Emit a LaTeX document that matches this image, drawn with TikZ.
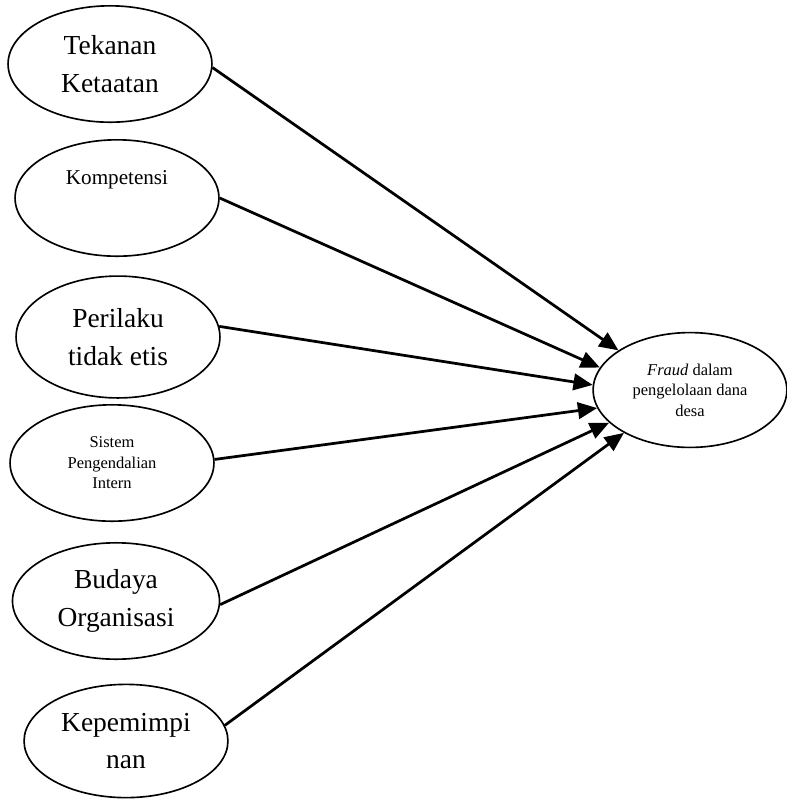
\documentclass[tikz,border=0pt]{standalone}
\usepackage{fontspec}
\setmainfont{Liberation Serif}
\usetikzlibrary{shapes.geometric,arrows.meta}
\newcommand{\bigtxt}{\fontsize{10}{13.8}\selectfont}
\newcommand{\midtxt}{\fontsize{7.7}{9}\selectfont}
\newcommand{\smalltxt}{\fontsize{6}{7.5}\selectfont}
\begin{document}
\begin{tikzpicture}[x=0.0128cm,y=-0.0128cm,
        oval/.style={draw,ellipse,line width=0.6pt,inner sep=0pt,align=center,
                     minimum width=2.61cm,minimum height=1.49cm},
        arr/.style={-{Triangle[length=7pt,width=6pt]},line width=1pt}]
     		\useasboundingbox (0,0) rectangle (787,800);
     		\node[oval,font=\bigtxt] (tekanan) at (110,64) {Tekanan\\Ketaatan};
     		\node[oval] (kompetensi) at (117,198) {};
     		\node[font=\midtxt] (kompetensitxt) at (117,180) {Kompetensi};
     		\node[oval,font=\bigtxt,minimum height=1.56cm] (perilaku) at (118,337) {Perilaku\\tidak etis};
     		\node[oval,font=\smalltxt] (spi) at (112,463) {Sistem\\Pengendalian\\Intern};
     		\node[oval,font=\bigtxt,minimum width=2.65cm] (budaya) at (116,601) {Budaya\\Organisasi};
     		\node[oval,font=\bigtxt,minimum height=1.45cm] (kepemimpinan) at (126,741) {Kepemimpi\\nan};
     		\node[oval,font=\smalltxt,minimum width=2.48cm,minimum height=1.47cm] (fraud) at (690,390)
     		{\textit{Fraud} dalam\\pengelolaan dana\\desa};
     		\foreach \src/\a/\b in {tekanan/-2/151,kompetensi/0/166,perilaku/6/177,spi/2/191,budaya/-2/202,kepemimpinan/9/213}{
     		\draw[arr] (\src.\a) -- (fraud.\b);}
		\end{tikzpicture}
\end{document}
